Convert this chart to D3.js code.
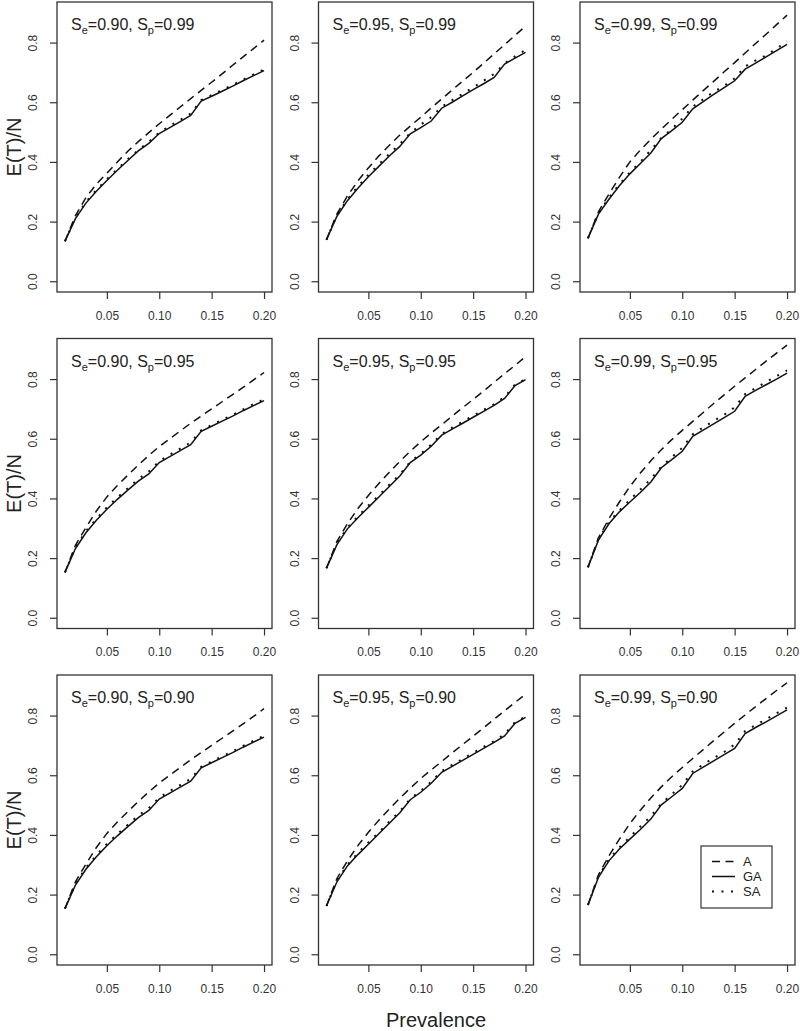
<!DOCTYPE html>
<html>
<head>
<meta charset="utf-8">
<script src="https://cdn.jsdelivr.net/npm/d3@7"></script>
<style>
  body { margin: 0; background: #fff; }
  svg { display: block; font-family: "Liberation Sans", Arial, sans-serif; }
</style>
</head>
<body>
<svg id="chart" width="800" height="1031"></svg>
<script>
// prevalence grid shared by every panel
var prevalence = [0.01, 0.02, 0.03, 0.04, 0.05, 0.06, 0.07, 0.08, 0.09, 0.10,
                  0.11, 0.12, 0.13, 0.14, 0.15, 0.16, 0.17, 0.18, 0.19, 0.20];
var xTicks = [0.05, 0.10, 0.15, 0.20];
var yTicks = [0.0, 0.2, 0.4, 0.6, 0.8];
var yLimits = [0, 0.9];
var legendLabels = ["A", "GA", "SA"];

// row 1: Sp = 0.99
var A_90_99  = [0.134,0.220,0.280,0.326,0.362,0.400,0.436,0.468,0.498,0.528,0.556,0.584,0.612,0.640,0.667,0.695,0.724,0.752,0.780,0.808];
var GA_90_99 = [0.134,0.210,0.262,0.302,0.338,0.372,0.405,0.437,0.462,0.495,0.515,0.535,0.556,0.604,0.620,0.637,0.654,0.672,0.689,0.706];
var SA_90_99 = [0.134,0.213,0.266,0.306,0.342,0.376,0.409,0.440,0.467,0.499,0.520,0.541,0.562,0.607,0.624,0.641,0.658,0.676,0.693,0.710];

var A_95_99  = [0.139,0.226,0.286,0.336,0.380,0.420,0.456,0.490,0.520,0.550,0.581,0.611,0.641,0.671,0.700,0.731,0.762,0.793,0.824,0.855];
var GA_95_99 = [0.139,0.218,0.270,0.312,0.350,0.385,0.420,0.452,0.494,0.515,0.537,0.580,0.600,0.621,0.642,0.662,0.683,0.728,0.748,0.767];
var SA_95_99 = [0.139,0.222,0.274,0.318,0.357,0.392,0.427,0.460,0.497,0.525,0.550,0.585,0.607,0.628,0.650,0.672,0.695,0.730,0.754,0.775];

var A_99_99  = [0.144,0.233,0.292,0.348,0.400,0.440,0.476,0.510,0.543,0.575,0.607,0.639,0.670,0.702,0.733,0.765,0.797,0.828,0.860,0.892];
var GA_99_99 = [0.144,0.225,0.275,0.320,0.360,0.395,0.430,0.478,0.505,0.533,0.578,0.602,0.626,0.649,0.672,0.711,0.731,0.752,0.773,0.794];
var SA_99_99 = [0.144,0.228,0.280,0.325,0.365,0.400,0.440,0.480,0.510,0.545,0.585,0.610,0.635,0.655,0.680,0.720,0.740,0.757,0.780,0.804];

// row 2: Sp = 0.95
var A_90_95  = [0.152,0.243,0.302,0.358,0.405,0.443,0.478,0.512,0.544,0.574,0.600,0.626,0.652,0.676,0.700,0.724,0.748,0.772,0.797,0.822];
var GA_90_95 = [0.152,0.232,0.285,0.327,0.364,0.397,0.428,0.458,0.482,0.520,0.540,0.560,0.580,0.625,0.642,0.659,0.676,0.694,0.711,0.728];
var SA_90_95 = [0.152,0.236,0.290,0.332,0.370,0.403,0.434,0.465,0.490,0.525,0.547,0.567,0.588,0.628,0.646,0.663,0.680,0.698,0.716,0.732];

var A_95_95  = [0.166,0.256,0.315,0.366,0.410,0.450,0.488,0.524,0.558,0.590,0.619,0.647,0.676,0.704,0.732,0.760,0.789,0.818,0.846,0.875];
var GA_95_95 = [0.166,0.245,0.298,0.335,0.370,0.405,0.440,0.475,0.520,0.545,0.575,0.612,0.632,0.652,0.672,0.692,0.712,0.735,0.778,0.798];
var SA_95_95 = [0.166,0.250,0.302,0.340,0.376,0.410,0.446,0.480,0.523,0.550,0.580,0.616,0.637,0.657,0.677,0.697,0.716,0.740,0.782,0.800];

var A_99_95  = [0.169,0.268,0.332,0.388,0.440,0.485,0.526,0.563,0.597,0.628,0.658,0.688,0.718,0.747,0.776,0.804,0.832,0.860,0.887,0.914];
var GA_99_95 = [0.169,0.260,0.315,0.355,0.388,0.420,0.455,0.503,0.530,0.558,0.608,0.629,0.650,0.671,0.692,0.742,0.762,0.781,0.800,0.820];
var SA_99_95 = [0.169,0.264,0.320,0.360,0.395,0.430,0.465,0.507,0.538,0.570,0.615,0.638,0.660,0.680,0.705,0.750,0.770,0.790,0.810,0.829];

// row 3: Sp = 0.90
var A_90_90  = [0.153,0.243,0.302,0.358,0.405,0.443,0.478,0.512,0.544,0.574,0.600,0.626,0.652,0.676,0.700,0.724,0.748,0.772,0.797,0.823];
var GA_90_90 = [0.153,0.232,0.285,0.327,0.364,0.397,0.428,0.458,0.482,0.520,0.540,0.560,0.580,0.625,0.642,0.659,0.676,0.694,0.711,0.728];
var SA_90_90 = [0.153,0.236,0.290,0.332,0.370,0.403,0.434,0.465,0.490,0.525,0.547,0.567,0.588,0.628,0.646,0.663,0.680,0.698,0.716,0.732];

var A_95_90  = [0.162,0.254,0.313,0.364,0.409,0.449,0.487,0.523,0.557,0.589,0.618,0.646,0.675,0.703,0.731,0.759,0.788,0.816,0.844,0.872];
var GA_95_90 = [0.162,0.243,0.296,0.334,0.369,0.404,0.439,0.474,0.518,0.543,0.573,0.610,0.630,0.650,0.670,0.690,0.710,0.732,0.774,0.794];
var SA_95_90 = [0.162,0.248,0.300,0.339,0.375,0.409,0.445,0.479,0.521,0.548,0.578,0.614,0.635,0.655,0.675,0.695,0.714,0.738,0.778,0.797];

var A_99_90  = [0.165,0.266,0.330,0.386,0.438,0.483,0.524,0.561,0.595,0.626,0.656,0.686,0.716,0.745,0.774,0.802,0.830,0.857,0.884,0.910];
var GA_99_90 = [0.165,0.258,0.313,0.353,0.386,0.418,0.453,0.501,0.528,0.556,0.606,0.627,0.648,0.669,0.690,0.740,0.760,0.779,0.799,0.819];
var SA_99_90 = [0.165,0.262,0.318,0.358,0.393,0.428,0.463,0.505,0.536,0.568,0.613,0.636,0.658,0.678,0.703,0.748,0.768,0.788,0.808,0.827];

var panels = [
  {se: "0.90", sp: "0.99", A: A_90_99, GA: GA_90_99, SA: SA_90_99},
  {se: "0.95", sp: "0.99", A: A_95_99, GA: GA_95_99, SA: SA_95_99},
  {se: "0.99", sp: "0.99", A: A_99_99, GA: GA_99_99, SA: SA_99_99},
  {se: "0.90", sp: "0.95", A: A_90_95, GA: GA_90_95, SA: SA_90_95},
  {se: "0.95", sp: "0.95", A: A_95_95, GA: GA_95_95, SA: SA_95_95},
  {se: "0.99", sp: "0.95", A: A_99_95, GA: GA_99_95, SA: SA_99_95},
  {se: "0.90", sp: "0.90", A: A_90_90, GA: GA_90_90, SA: SA_90_90},
  {se: "0.95", sp: "0.90", A: A_95_90, GA: GA_95_90, SA: SA_95_90},
  {se: "0.99", sp: "0.90", A: A_99_90, GA: GA_99_90, SA: SA_99_90}
];

// line look for each series (R lty 2 / 1 / 3)
var dashes = {A: "8,5.5", GA: null, SA: "2,7.5"};
var widths = {A: 1.5, GA: 1.5, SA: 2};

var W = 215, H = 290;
var colX = [57, 318.5, 580];
var rowY = [2, 338.5, 675];
var ink = "#333";

// R style axes: data range padded by 4% each side
function pad(lo, hi) { var d = (hi - lo) * 0.04; return [lo - d, hi + d]; }
var x = d3.scaleLinear().domain(pad(d3.min(prevalence), d3.max(prevalence))).range([0, W]);
var y = d3.scaleLinear().domain(pad(yLimits[0], yLimits[1])).range([H, 0]);

var line = d3.line()
  .x(function(d) { return x(d[0]); })
  .y(function(d) { return y(d[1]); });

var svg = d3.select("#chart");

panels.forEach(function(p, i) {
  var col = i % 3, row = Math.floor(i / 3);
  var g = svg.append("g").attr("transform", "translate(" + colX[col] + "," + rowY[row] + ")");

  // x axis
  var xa = g.append("g").attr("transform", "translate(0," + H + ")")
    .call(d3.axisBottom(x).tickValues(xTicks).tickSize(7).tickPadding(12).tickFormat(d3.format(".2f")));
  // y axis
  var ya = g.append("g")
    .call(d3.axisLeft(y).tickValues(yTicks).tickSize(7).tickFormat(d3.format(".1f")));
  ya.selectAll(".tick text")
    .attr("x", null).attr("dy", "0.35em")
    .attr("text-anchor", "middle")
    .attr("transform", "translate(-24,0) rotate(-90)");
  [xa, ya].forEach(function(a) {
    a.select(".domain").remove();
    a.selectAll("line").attr("stroke", ink).attr("stroke-width", 1.2);
    a.selectAll("text").attr("fill", ink).style("font-size", "12px")
      .style("font-family", "'Liberation Sans', Arial, sans-serif");
  });

  // curves
  ["A", "GA", "SA"].forEach(function(k) {
    g.append("path")
      .datum(d3.zip(prevalence, p[k]))
      .attr("d", line)
      .attr("fill", "none")
      .attr("stroke", "#111")
      .attr("stroke-width", widths[k])
      .attr("stroke-dasharray", dashes[k]);
  });

  // frame
  g.append("rect").attr("width", W).attr("height", H)
    .attr("fill", "none").attr("stroke", ink).attr("stroke-width", 1.3);

  // panel label with subscripts
  var t = g.append("text").attr("x", 14).attr("y", 28)
    .attr("fill", "#222").style("font-size", "16px");
  t.append("tspan").text("S");
  t.append("tspan").text("e").style("font-size", "11px").attr("dy", 4);
  t.append("tspan").text("=" + p.se + ", S").attr("dy", -4);
  t.append("tspan").text("p").style("font-size", "11px").attr("dy", 4);
  t.append("tspan").text("=" + p.sp).attr("dy", -4);

  // y label on the first column
  if (col === 0) {
    svg.append("text")
      .attr("transform", "translate(14," + (rowY[row] + H / 2) + ") rotate(-90)")
      .attr("text-anchor", "middle").attr("dy", "0.35em")
      .attr("fill", "#222").style("font-size", "20px")
      .text("E(T)/N");
  }

  // legend in the last panel
  if (i === panels.length - 1) {
    var lg = g.append("g").attr("transform", "translate(121,171)");
    lg.append("rect").attr("width", 71).attr("height", 62)
      .attr("fill", "#fff").attr("stroke", ink).attr("stroke-width", 1.2);
    legendLabels.forEach(function(lab, j) {
      var yy = 15.5 + j * 15;
      lg.append("line").attr("x1", 11).attr("x2", 34).attr("y1", yy).attr("y2", yy)
        .attr("stroke", "#111").attr("stroke-width", widths[lab])
        .attr("stroke-dasharray", dashes[lab]);
      lg.append("text").attr("x", 42).attr("y", yy).attr("dy", "0.35em")
        .attr("fill", "#222").style("font-size", "13px").text(lab);
    });
  }
});

// shared x label
svg.append("text")
  .attr("x", 436).attr("y", 1027)
  .attr("text-anchor", "middle")
  .attr("fill", "#222").style("font-size", "20px")
  .text("Prevalence");
</script>
</body>
</html>
